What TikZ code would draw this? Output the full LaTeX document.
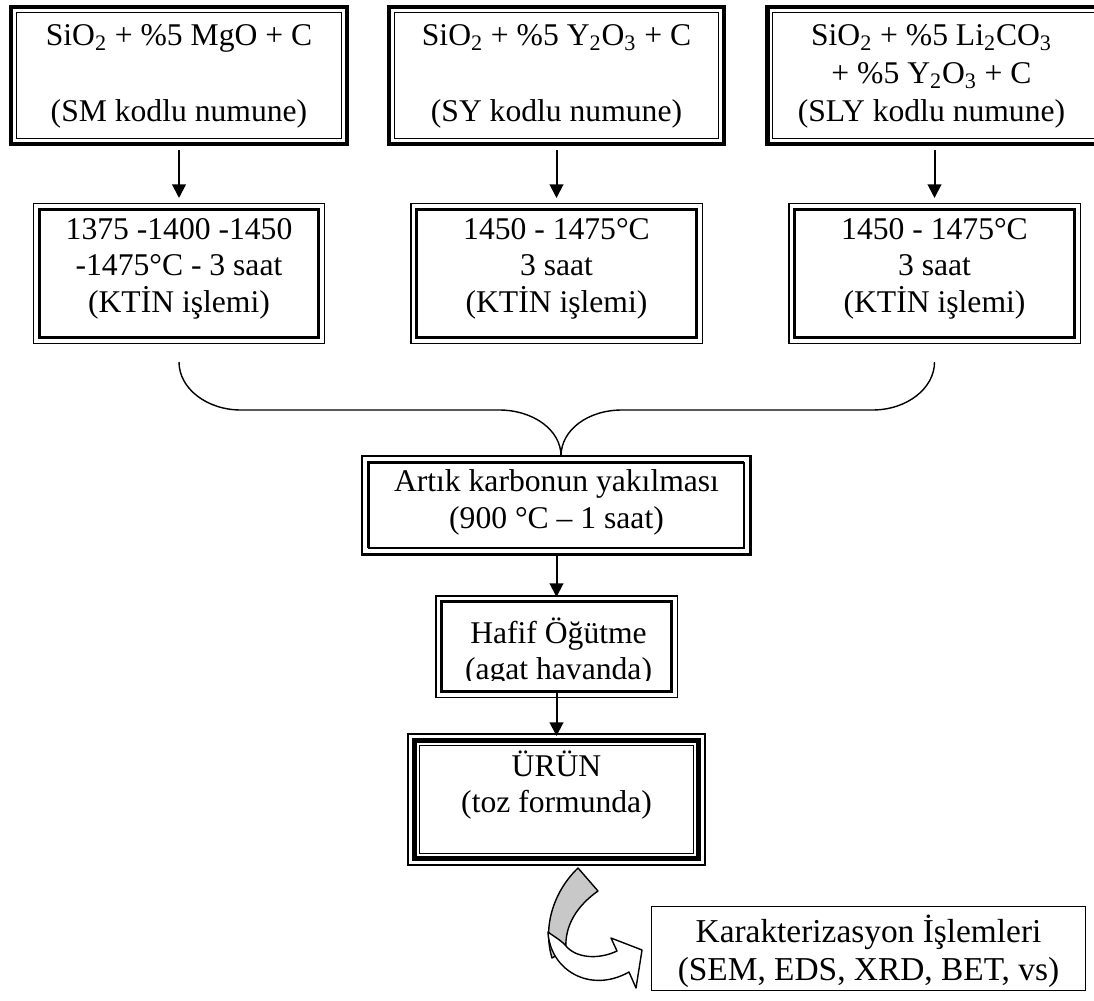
\documentclass[tikz,border=0pt]{standalone}
\usepackage{fontspec}
\setmainfont{Liberation Serif}
\usetikzlibrary{arrows.meta,fit}
\begin{document}
\begin{tikzpicture}[x=0.02cm,y=-0.02cm,
  lbl/.style={font=\fontsize{18pt}{20.7pt}\selectfont, align=center, inner sep=0pt},
  lblwide/.style={lbl, font=\fontsize{18pt}{21.6pt}\selectfont},
  frame/.style={inner sep=0pt, outer sep=0pt},
  arr/.style={line width=1.13pt, -{Triangle[width=7.8pt,length=7.8pt]}},
  brace/.style={line width=0.8pt},
  thinline/.style={line width=0.85pt},
  thickline/.style={line width=1.98pt},
  heavyline/.style={line width=2.55pt},
]
\useasboundingbox (0,0) rectangle (1094,1000);

% ---- box outlines (plain fitted rectangles) ----
\node[frame, fit={(9,5) (349,146)}]      (s1) {};
\node[frame, fit={(387,5) (726,146)}]    (s2) {};
\node[frame, fit={(765,5) (1104,146)}]   (s3) {};
\node[frame, fit={(33,203) (325,344)}]   (r1) {};
\node[frame, fit={(410,203) (703,344)}]  (r2) {};
\node[frame, fit={(788,203) (1081,344)}] (r3) {};
\node[frame, fit={(361,455) (752,556)}]  (m)  {};
\node[frame, fit={(435,595) (678,698)}]  (h)  {};
\node[frame, fit={(407,733) (706,866)}]  (u)  {};
\node[frame, fit={(651,906) (1086,991)}] (k)  {};

% thick outer + thin inner
\foreach \b in {s1,s2,s3}{
  \draw[heavyline] ([shift={(2.25,2.25)}]\b.north west) rectangle ([shift={(-2.25,-2.25)}]\b.south east);
  \draw[thinline]  ([shift={(7.5,7.5)}]\b.north west) rectangle ([shift={(-7.5,-7.5)}]\b.south east);
}
% thin outer + thick inner
\foreach \b in {r1,r2,r3,h}{
  \draw[thinline]  ([shift={(0.75,0.75)}]\b.north west) rectangle ([shift={(-0.75,-0.75)}]\b.south east);
  \draw[thickline] ([shift={(6.5,6.5)}]\b.north west) rectangle ([shift={(-6.5,-6.5)}]\b.south east);
}
% shadowed double frame: thin above/left of thick on every side
\draw[thinline]  ([shift={(0.75,0)}]m.south west) -- ([shift={(0.75,0.75)}]m.north west) -- ([shift={(0,0.75)}]m.north east);
\draw[thickline] ([shift={(0,-1.75)}]m.south west) -- ([shift={(-1.75,-1.75)}]m.south east) -- ([shift={(-1.75,0)}]m.north east);
\draw[thickline] ([shift={(7.25,-8.25)}]m.south west) -- ([shift={(7.25,7.25)}]m.north west) -- ([shift={(-8.25,7.25)}]m.north east);
\draw[thinline]  ([shift={(7.25,-8.25)}]m.south west) -- ([shift={(-8.25,-8.25)}]m.south east) -- ([shift={(-8.25,7.25)}]m.north east);
% triple frame
\draw[line width=0.96pt] ([shift={(0.85,0.85)}]u.north west) rectangle ([shift={(-0.85,-0.85)}]u.south east);
\draw[line width=2.83pt] ([shift={(7.5,7.5)}]u.north west) rectangle ([shift={(-7.5,-7.5)}]u.south east);
\draw[line width=0.96pt] ([shift={(12.5,12.5)}]u.north west) rectangle ([shift={(-12.5,-12.5)}]u.south east);
% single frame
\draw[line width=0.74pt] ([shift={(0.65,0.65)}]k.north west) rectangle ([shift={(-0.65,-0.65)}]k.south east);

% ---- texts ----
\node[lblwide] (s1t) at ([shift={(0,1)}]s1.center) {SiO\textsubscript{2} + \%5 MgO + C\\[21.6pt](SM kodlu numune)};
\node[lblwide] (s2t) at ([shift={(0,1)}]s2.center) {SiO\textsubscript{2} + \%5 Y\textsubscript{2}O\textsubscript{3} + C\\[21.6pt](SY kodlu numune)};
\node[lblwide] (s3t) at ([shift={(-3,1)}]s3.center) {SiO\textsubscript{2} + \%5 Li\textsubscript{2}CO\textsubscript{3}\\+ \%5 Y\textsubscript{2}O\textsubscript{3} + C\\(SLY kodlu numune)};
\node[lbl] (r1t) at ([shift={(0,-5)}]r1.center) {1375 -1400 -1450\\-1475°C - 3 saat\\(KTİN işlemi)};
\node[lbl] (r2t) at ([shift={(0,-5)}]r2.center) {1450 - 1475°C\\3 saat\\(KTİN işlemi)};
\node[lbl] (r3t) at ([shift={(0,-5)}]r3.center) {1450 - 1475°C\\3 saat\\(KTİN işlemi)};
\node[lbl] (mt) at ([shift={(0,-3)}]m.center) {Artık karbonun yakılması\\(900 °C – 1 saat)};
\begin{scope}
  \clip (435,595) rectangle (678,680);
  \node[lbl] (ht) at ([shift={(2,5.5)}]h.center) {Hafif Öğütme\\(agat havanda)};
\end{scope}
\node[lbl] (ut) at ([shift={(0,-14.5)}]u.center) {ÜRÜN\\(toz formunda)};
\node[lbl, font=\fontsize{19pt}{21.5pt}\selectfont] (kt) at ([shift={(0,3)}]k.center) {Karakterizasyon İşlemleri\\(SEM, EDS, XRD, BET, vs)};

% ---- connectors ----
\draw[arr] ([shift={(0,4)}]s1.south) -- ([shift={(0,-5)}]r1.north);
\draw[arr] ([shift={(0,4)}]s2.south) -- ([shift={(0,-5)}]r2.north);
\draw[arr] ([shift={(0,4)}]s3.south) -- ([shift={(0,-5)}]r3.north);
\draw[arr] ([shift={(0,-3)}]m.south) -- ([shift={(0,2)}]h.north);
\draw[arr] ([shift={(0,-6)}]h.south) -- ([shift={(0,3)}]u.north);

% brace gathering the three lines into one
\coordinate (bl) at ([shift={(0,18)}]r1.south);
\coordinate (br) at ([shift={(0,18)}]r3.south);
\coordinate (bt) at ([shift={(4.5,1)}]m.north);
\draw[brace] (bl) .. controls +(0,26.5) and +(-34.2,0) .. ++(62,48) -- ++(258,0)
  .. controls +(34.2,0) and +(0,-26) .. (bt);
\draw[brace] (br) .. controls +(0,26.5) and +(34.2,0) .. ++(-62,48) -- ++(-250.5,0)
  .. controls +(-34.2,0) and +(0,-26) .. (bt);

% curved block arrow towards characterisation
\filldraw[fill={rgb,255:red,200;green,200;blue,200}, line width=0.8pt, line join=round]
  (578,868) -- (598,891) .. controls (578,905) and (564,925) .. (566,950)
  -- (552,958) .. controls (542,925) and (555,890) .. (578,868) -- cycle;
\filldraw[fill=white, line width=0.8pt, line join=round]
  (548,932) .. controls (550,970) and (590,994) .. (629,972)
  -- (636,988) -- (642,950) -- (611,938) -- (617,951)
  .. controls (598,960) and (576,958) .. (566,946)
  .. controls (561,940) and (553,936) .. (548,932) -- cycle;
\end{tikzpicture}
\end{document}
